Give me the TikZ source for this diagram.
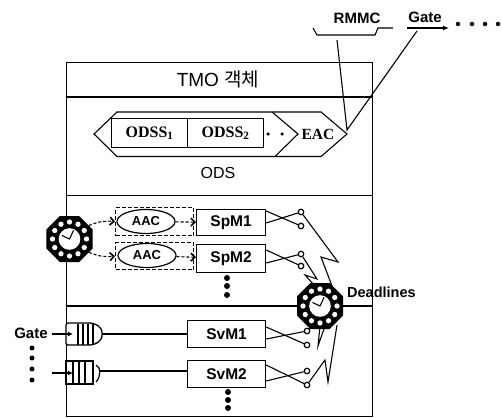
\documentclass[tikz,border=0pt]{standalone}
\usepackage{fontspec}
\setmainfont{Liberation Sans}
\newfontfamily\serifb{Liberation Serif}
\newfontfamily\cjk{Noto Sans CJK KR}
\usetikzlibrary{shapes.geometric,arrows.meta,calc}
\tikzset{
  x=1pt,y=-1pt,
  ln/.style={draw=black,line width=1.1pt},
  mbox/.style={draw=black,line width=1.2pt,fill=white,inner sep=0pt,font=\bfseries\fontsize{15.5}{15.5}\selectfont},
  sbox/.style={draw=black,line width=1.2pt,fill=white,inner sep=0pt,font=\serifb\bfseries\fontsize{16}{16}\selectfont},
  lab/.style={inner sep=0pt,font=\bfseries\fontsize{14}{14}\selectfont},
  dashbox/.style={draw=black,line width=1.2pt,dash pattern=on 4pt off 2pt,inner sep=0pt},
  aac/.style={draw=black,line width=1.2pt,fill=white,ellipse,minimum width=58pt,minimum height=24pt,inner sep=0pt,font=\bfseries\fontsize{13}{13}\selectfont},
  sw/.style={circle,draw=black,line width=1.2pt,fill=white,minimum size=5.5pt,inner sep=0pt},
  dotb/.style={circle,fill=black,minimum size=6pt,inner sep=0pt},
  clockface/.style={regular polygon,regular polygon sides=8,draw=none,fill=black,inner sep=0pt},
  tip/.style={-{Latex[length=6pt,width=5pt]}},
  flow/.style={line width=1.1pt,densely dashed,-{Straight Barb[length=4pt,width=8pt,line width=1.6pt]}},
  hand/.style={draw=black,line width=1.1pt},
}
\newcommand{\myclock}[3]{%
  \node[clockface,minimum size=#3*2.165pt] (#1) at (#2) {};
  \foreach \a in {0,30,...,330}{\fill[white] ($(#2)+(\a:{#3*0.74})$) circle ({#3*0.115});}
  \fill[white] (#2) circle ({#3*0.47});
  \draw[hand] ($(#2)+(-65:{#3*0.42})$) -- (#2) -- ($(#2)+(205:{#3*0.36})$);
}
\begin{document}
\begin{tikzpicture}
\useasboundingbox (0,0) rectangle (502,417);
\fill[white] (0,0) rectangle (502,417);
% outer frame
\node[draw=black,line width=1.2pt,minimum width=306pt,minimum height=354pt,inner sep=0pt,anchor=north west] (frame) at (65.5,62) {};
\coordinate (h1l) at (65.5,97); \coordinate (h1r) at (371.5,97);
\coordinate (h2l) at (65.5,195.5); \coordinate (h2r) at (371.5,195.5);
\coordinate (h3l) at (65.5,306); \coordinate (h3r) at (371.5,306);
\draw[ln] (h1l) -- (h1r);
\draw[ln] (h2l) -- (h2r);
\draw[ln] (h3l) -- (h3r);
\node[inner sep=0pt,font=\fontsize{19}{19}\selectfont] (title) at (218,79) {TMO {\cjk 객체}};
\node[inner sep=0pt,font=\fontsize{16}{16}\selectfont] (ods) at (218,173) {ODS};
% ODS container
\draw[ln] (94,134) -- (117,112) -- (321,112) -- (347,134) -- (321,156.5) -- (117,156.5) -- cycle;
\draw[ln] (272,112) -- (298,134) -- (275,156.5);
\node[sbox,minimum width=76pt,minimum height=29pt,anchor=north west] (o1) at (111,118) {ODSS\textsubscript{1}};
\node[sbox,minimum width=76pt,minimum height=29pt,anchor=north west] (o2) at (187,118) {ODSS\textsubscript{2}};
\node[dotb,minimum size=3.5pt] (d1) at (268,134) {};
\node[dotb,minimum size=3.5pt] (d2) at (282,134) {};
\node[inner sep=0pt,font=\serifb\bfseries\fontsize{15.5}{15.5}\selectfont] (eac) at (318,134) {EAC};
% RMMC
\node[lab,font=\bfseries\fontsize{15}{15}\selectfont] (rmmc) at (357,18) {RMMC};
\node[lab,font=\bfseries\fontsize{15}{15}\selectfont] (gate1) at (425,17) {Gate};
\coordinate (j0) at (313,28); \coordinate (j1) at (317,35); \coordinate (j2) at (375,35); \coordinate (j3) at (378,28); \coordinate (j4) at (393,28);
\draw[ln] (j0) -- (j1) -- (j2) -- (j3) -- (j4);
\coordinate (ga) at (407,28); \coordinate (gb) at (449,28);
\draw[line width=1.8pt,tip] (ga) -- (gb);
\foreach \x/\n in {458/a,472/b,485/c,498/d}{\node[dotb,minimum size=4.5pt] (t\n) at (\x,24) {};}
\coordinate (etip) at (347,130); \coordinate (r0) at (337,40); \coordinate (g0) at (417,31);
\draw[ln] (r0) -- (etip) -- (g0);
% Spontaneous methods
\node[dashbox,minimum width=78pt,minimum height=28pt,anchor=north west] (db1) at (115,207) {};
\node[dashbox,minimum width=78pt,minimum height=27pt,anchor=north west] (db2) at (115,242) {};
\node[aac] (a1) at (146,221.5) {AAC};
\node[aac] (a2) at (147,255.5) {AAC};
\node[mbox,minimum width=69pt,minimum height=26pt,anchor=north west] (s1) at (196,209) {SpM1};
\node[mbox,minimum width=69pt,minimum height=28pt,anchor=north west] (s2) at (196,244) {SpM2};
\draw[flow] (a1) -- (s1);
\draw[flow] (a2) -- (s2);
% service
\node[mbox,minimum width=78pt,minimum height=27pt,anchor=north west] (v1) at (187,320) {SvM1};
\node[mbox,minimum width=78pt,minimum height=27pt,anchor=north west] (v2) at (187,360) {SvM2};
\foreach \n/\x/\y in {p1/227/278,p2/227/286,p3/227/295,q1/228/392,q2/228/400,q3/228/408}{\node[dotb] (\n) at (\x,\y) {};}
% queues
\draw[line width=1.3pt,fill=white,rounded corners=2pt] (66,323) -- (88,323) to[out=0,in=90] (102,334) to[out=-90,in=0] (88,345) -- (66,345) -- cycle;
\foreach \x in {78,83,88,93}{\draw[line width=1.2pt] (\x,323.5) -- (\x,344.5);}
\draw[line width=1.3pt] (66,361) rectangle (93,384);
\foreach \x in {73,79,85}{\draw[line width=1.2pt] (\x,361) -- (\x,384);}
\draw[line width=1.2pt] (96,365) .. controls (101,367) and (101,377) .. (96,382);
\node[inner sep=0pt,minimum size=0pt] (qa) at (102,334) {};
\node[inner sep=0pt,minimum size=0pt] (qb) at (99,371) {};
\draw[ln] (qa) -- (v1.west |- qa);
\draw[ln] (qb) -- (v2.west |- qb);
\node[lab,font=\bfseries\fontsize{15}{15}\selectfont] (gate2) at (31,333) {Gate};
\coordinate (ga2) at (52,334); \coordinate (gb2) at (73,334);
\coordinate (ga3) at (52,373); \coordinate (gb3) at (73,373);
\draw[line width=1.4pt,-{Latex[length=5pt,width=5pt]}] (ga2) -- (gb2);
\draw[line width=1.4pt,-{Latex[length=5pt,width=5pt]}] (ga3) -- (gb3);
\foreach \n/\y in {e1/348,e2/358,e3/369,e4/380}{\node[dotb,minimum size=5pt] (\n) at (32,\y) {};}
% switches
\node[sw] (c1a) at (301,212) {};
\node[sw] (c1b) at (301,226) {};
\node[sw] (c2a) at (301,254) {};
\node[sw] (c2b) at (301,266) {};
\node[sw] (c3a) at (307,331) {};
\node[sw] (c3b) at (307,345) {};
\node[sw] (c4a) at (307,371) {};
\node[sw] (c4b) at (307,385) {};
\foreach \bx/\ca/\cb/\ya/\yb in {s1/c1a/c1b/211/223,s2/c2a/c2b/250/263,v1/c3a/c3b/327/339,v2/c4a/c4b/365/381}{
  \draw[ln] (\bx.east |- 0,\ya) -- (\cb);
  \draw[ln] (\bx.east |- 0,\yb) -- (\ca);
}
% lightning
\coordinate (l1a) at (338,262); \coordinate (l1b) at (321,257);
\coordinate (l2a) at (317,279); \coordinate (l2b) at (305,275);
\draw[ln] (c1a) -- (l1a) -- (l1b) -- (332,286);
\draw[ln] (c2a) -- (l2a) -- (l2b) -- (315,286);
\coordinate (l3a) at (318,346); \coordinate (l3b) at (325,326);
\coordinate (l3c) at (320,326);
\draw[ln] (c3a) -- (312,326);
\draw[ln] (l3c) -- (l3a) -- (l3b);
\coordinate (l4a) at (325,360); \coordinate (l4b) at (328,382); \coordinate (l4c) at (337,325);
\draw[ln] (c4b) -- (l4a) -- (l4b) -- (l4c);
% clocks
\myclock{ck1}{69.5,239}{23}
\myclock{ck2}{320,306}{23}
\node[lab,font=\bfseries\fontsize{14.5}{14.5}\selectfont,anchor=west] (dl) at (347,292) {Deadlines};
\draw[flow] (ck1) to[bend left=14] (db1.west);
\draw[flow] (ck1) to[bend right=14] (db2.west);
\end{tikzpicture}
\end{document}
